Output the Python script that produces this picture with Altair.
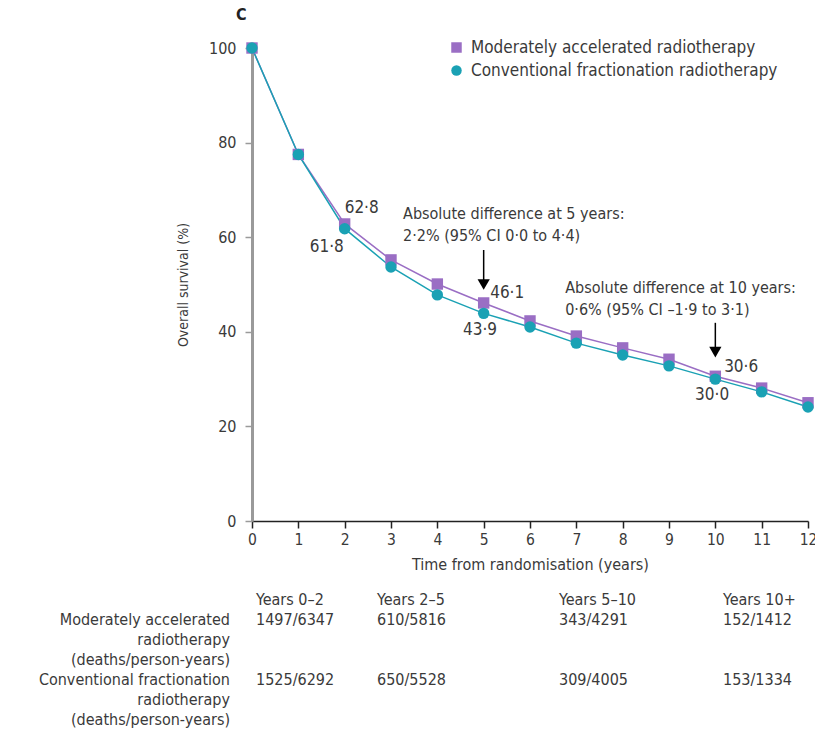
import altair as alt
import pandas as pd

# ---- data ----
years = [0, 1, 2, 3, 4, 5, 6, 7, 8, 9, 10, 11, 12]
moderate = [100, 77.5, 62.8, 55.2, 50.1, 46.1, 42.3, 39.1, 36.6, 34.2, 30.6, 28.1, 25.0]
conventional = [100, 77.5, 61.8, 53.7, 47.8, 43.9, 41.0, 37.6, 35.1, 32.8, 30.0, 27.3, 24.1]
series_names = ["Moderately accelerated radiotherapy", "Conventional fractionation radiotherapy"]
series_colors = ["#9a6ec4", "#1aa1b4"]
series_shapes = ["square", "circle"]

# value labels (text, year, survival)
lab_left_text = ["62·8", "46·1", "30·6"]
lab_left_x = [2.0, 5.14, 10.19]
lab_left_y = [66.2, 48.2, 32.6]
lab_right_text = ["61·8"]
lab_right_x = [1.98]
lab_right_y = [57.9]
lab_center_text = ["43·9", "30·0"]
lab_center_x = [4.92, 9.93]
lab_center_y = [40.4, 26.6]

# annotation texts
ann_text = ["Absolute difference at 5 years:", "2·2% (95% CI 0·0 to 4·4)",
            "Absolute difference at 10 years:", "0·6% (95% CI –1·9 to 3·1)"]
ann_x = [3.26, 3.26, 6.76, 6.76]
ann_y = [64.9, 60.3, 49.3, 44.6]

# arrows
arrow_x = [5, 10]
arrow_top = [57.3, 41.9]
arrow_head = [50.0, 35.7]

# table below
table_header = ["Years 0–2", "Years 2–5", "Years 5–10", "Years 10+"]
table_row_labels = [["Moderately accelerated", "radiotherapy", "(deaths/person-years)"],
                    ["Conventional fractionation", "radiotherapy", "(deaths/person-years)"]]
table_moderate = ["1497/6347", "610/5816", "343/4291", "152/1412"]
table_conventional = ["1525/6292", "650/5528", "309/4005", "153/1334"]

FONT = "DejaVu Sans Condensed, DejaVu Sans"
TXT = "#3a3a3a"
TS = 16  # table font size

# ---- frames ----
rows = []
for name, vals in zip(series_names, [moderate, conventional]):
    for yr, v in zip(years, vals):
        rows.append({"year": yr, "surv": v, "series": name})
df = pd.DataFrame(rows)

xscale = alt.Scale(domain=[0, 12], nice=False, zero=False)
yscale = alt.Scale(domain=[0, 100], nice=False)

x_enc = alt.X("year:Q", scale=xscale,
              axis=alt.Axis(values=list(range(13)), title="Time from randomisation (years)",
                            grid=False, domainColor="#222", domainWidth=1.5,
                            tickColor="#222", tickWidth=1.5, tickSize=7,
                            labelFontSize=15.5, labelColor=TXT, labelPadding=4,
                            titleFontSize=16, titleFontWeight="normal", titleColor=TXT,
                            titlePadding=9, labelFont=FONT, titleFont=FONT, labelFlush=False))
y_enc = alt.Y("surv:Q", scale=yscale,
              axis=alt.Axis(values=[0, 20, 40, 60, 80, 100], title="Overall survival (%)",
                            grid=False, domainColor="#9a9a9a", domainWidth=3,
                            tickColor="#9a9a9a", tickWidth=1.5, tickSize=7,
                            labelFontSize=16, labelColor=TXT, labelPadding=9,
                            titleFontSize=14, titleFontWeight="normal", titleColor=TXT,
                            titlePadding=18, labelFont=FONT, titleFont=FONT))

leg = alt.Legend(title=None, orient="none", legendX=196, legendY=-9,
                 labelFontSize=17, labelFont=FONT, labelColor=TXT, labelLimit=0,
                 symbolSize=110, rowPadding=5, padding=0,
                 symbolStrokeWidth=0, labelOffset=6)
cscale = alt.Scale(domain=series_names, range=series_colors)
sscale = alt.Scale(domain=series_names, range=series_shapes)

lines = alt.Chart(df).mark_line(strokeWidth=1.5).encode(
    x=x_enc, y=y_enc,
    color=alt.Color("series:N", scale=cscale, legend=leg),
    order=alt.Order("year:Q"))
points = alt.Chart(df).mark_point(filled=True, size=130, opacity=1).encode(
    x="year:Q", y="surv:Q",
    color=alt.Color("series:N", scale=cscale, legend=leg),
    shape=alt.Shape("series:N", scale=sscale, legend=leg),
    order=alt.Order("series:N", sort="descending"))

def textlayer(texts, xs, ys, align, size):
    d = pd.DataFrame({"t": texts, "year": xs, "surv": ys})
    return alt.Chart(d).mark_text(align=align, baseline="middle", fontSize=size,
                                  font=FONT, color=TXT).encode(x="year:Q", y="surv:Q", text="t:N")

labels = (textlayer(lab_left_text, lab_left_x, lab_left_y, "left", 17)
          + textlayer(lab_right_text, lab_right_x, lab_right_y, "right", 17)
          + textlayer(lab_center_text, lab_center_x, lab_center_y, "center", 17)
          + textlayer(ann_text, ann_x, ann_y, "left", 16))

adf = pd.DataFrame({"year": arrow_x, "top": arrow_top, "head": arrow_head})
arrow_lines = alt.Chart(adf).mark_rule(color="black", strokeWidth=1.5).encode(
    x="year:Q", y="top:Q", y2="head:Q")
arrow_heads = alt.Chart(adf).mark_point(shape="triangle-down", filled=True, color="black",
                                        size=150, opacity=1).encode(x="year:Q", y="head:Q")

# panel letter
letter = alt.Chart(pd.DataFrame({"t": ["C"]})).mark_text(
    align="left", baseline="middle", fontSize=16, fontWeight="bold", font=FONT, color="#222"
).encode(x=alt.value(-16), y=alt.value(-33), text="t:N")

# table
col_px = [4, 125, 307, 471]
tables = []
def tt(t, px, py, align="left"):
    return alt.Chart(pd.DataFrame({"t": [t]})).mark_text(
        align=align, baseline="middle", fontSize=TS, font=FONT, color=TXT
    ).encode(x=alt.value(px), y=alt.value(py), text="t:N")

for i, px in enumerate(col_px):
    tables.append(tt(table_header[i], px, 552))
    tables.append(tt(table_moderate[i], px, 572))
    tables.append(tt(table_conventional[i], px, 632))
row_y = [[572, 592, 612], [632, 652, 672]]
for r in range(2):
    for k in range(3):
        tables.append(tt(table_row_labels[r][k], -22, row_y[r][k], "right"))

chart = alt.layer(lines, points, labels, arrow_lines, arrow_heads, letter, *tables).properties(
    width=556, height=473,
    padding={"left": 252, "top": 48, "right": 7, "bottom": 213},
    autosize=alt.AutoSizeParams(type="none"),
    background="white",
).configure_view(stroke=None).configure_axis(labelFont=FONT, titleFont=FONT)

chart.save("out.html", embed_options={"renderer": "svg", "actions": False})
